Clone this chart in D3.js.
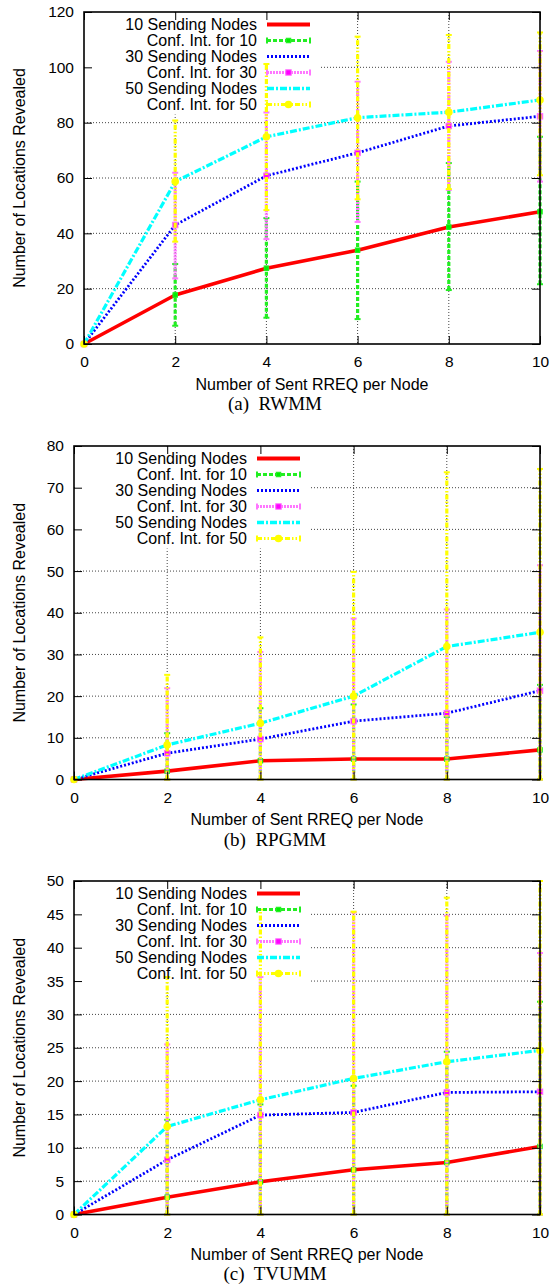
<!DOCTYPE html>
<html>
<head>
<meta charset="utf-8">
<script src="https://cdn.jsdelivr.net/npm/d3@7/dist/d3.min.js"></script>
<style>
  body { margin: 0; background: #fff; }
  svg { display: block; }
  text { font-family: "Liberation Sans", Arial, Helvetica, sans-serif; fill: #000; }
  .caption { font-family: "Liberation Serif", "Times New Roman", serif; white-space: pre; }
</style>
</head>
<body>
<div id="chart"></div>
<script>
// x values and tick labels shared by all three panels
var xValues = [0, 2, 4, 6, 8, 10];
var xTicks = [0, 2, 4, 6, 8, 10];
var legendNames = ["10 Sending Nodes", "Conf. Int. for 10", "30 Sending Nodes",
                   "Conf. Int. for 30", "50 Sending Nodes", "Conf. Int. for 50"];

// (a) RWMM
var rwmmYTicks = [0, 20, 40, 60, 80, 100, 120];
var rwmmMean10 = [0, 17.7, 27.4, 33.9, 42.3, 47.8];
var rwmmLow10  = [0, 6.6, 9.5, 9.0, 19.5, 21.6];
var rwmmHigh10 = [0, 28.9, 45.5, 58.7, 65.4, 74.9];
var rwmmMean30 = [0, 43.0, 60.8, 69.1, 78.8, 82.3];
var rwmmLow30  = [0, 23.7, 37.9, 44.1, 55.7, 58.7];
var rwmmHigh30 = [0, 61.9, 83.7, 94.8, 102.0, 105.9];
var rwmmMean50 = [0, 58.7, 74.9, 81.8, 83.8, 88.2];
var rwmmLow50  = [0, 37.0, 48.4, 52.3, 56.0, 61.0];
var rwmmHigh50 = [0, 80.8, 101.2, 111.1, 111.7, 112.6];

// (b) RPGMM
var rpgmmYTicks = [0, 10, 20, 30, 40, 50, 60, 70, 80];
var rpgmmMean10 = [0, 2.0, 4.5, 4.9, 4.9, 7.1];
var rpgmmLow10  = [0, 0, 0, 0, 0, 0];
var rpgmmHigh10 = [0, 11.1, 17.1, 18.0, 15.0, 22.7];
var rpgmmMean30 = [0, 6.3, 9.7, 14.0, 15.9, 21.3];
var rpgmmLow30  = [0, 0, 0, 0, 0, 0];
var rpgmmHigh30 = [0, 21.9, 30.6, 38.6, 40.8, 51.4];
var rpgmmMean50 = [0, 8.3, 13.5, 20.0, 31.9, 35.3];
var rpgmmLow50  = [0, 0, 0, 0, 0, 0];
var rpgmmHigh50 = [0, 25.1, 34.1, 49.8, 73.7, 74.5];

// (c) TVUMM
var tvummYTicks = [0, 5, 10, 15, 20, 25, 30, 35, 40, 45, 50];
var tvummMean10 = [0, 2.6, 4.9, 6.7, 7.8, 10.2];
var tvummLow10  = [0, 0, 0, 0, 0, 0];
var tvummHigh10 = [0, 14.2, 16.5, 19.3, 24.4, 31.9];
var tvummMean30 = [0, 8.2, 14.9, 15.3, 18.3, 18.4];
var tvummLow30  = [0, 0, 0, 0, 0, 0];
var tvummHigh30 = [0, 25.5, 35.6, 45.3, 44.8, 39.2];
var tvummMean50 = [0, 13.2, 17.2, 20.4, 22.9, 24.6];
var tvummLow50  = [0, 0, 0, 0, 0, 0];
var tvummHigh50 = [0, 35.6, 45.7, 45.4, 47.5, 50];

// line / error bar styles in gnuplot order
var lineStyles = [
  { color: "#ff0000", width: 3.6, dash: null },
  { color: "#22ee22", width: 3.2, dash: "4,2", point: "#00ee00", shape: "square", size: 4.5 },
  { color: "#0000ff", width: 2.8, dash: "2,2" },
  { color: "#ff77ff", width: 3.2, dash: "2,1", point: "#ff00ff", shape: "square", size: 5.5 },
  { color: "#00ffff", width: 3.2, dash: "7,2,2,2" },
  { color: "#ffff00", width: 3.2, dash: "5,2,1.5,2,1.5,2", point: "#ffff00", shape: "circle", size: 3.8 }
];

var width = 551, height = 1288;
var svg = d3.select("#chart").append("svg")
  .attr("width", width).attr("height", height);
svg.append("rect").attr("width", width).attr("height", height).attr("fill", "#fff");

var panels = [
  { left: 84, right: 540, top: 12, bottom: 344, yMax: 120, yTicks: rwmmYTicks,
    caption: "(a)  RWMM", xLabelY: 390, captionY: 410,
    means: [rwmmMean10, rwmmMean30, rwmmMean50],
    lows: [rwmmLow10, rwmmLow30, rwmmLow50],
    highs: [rwmmHigh10, rwmmHigh30, rwmmHigh50] },
  { left: 74, right: 540, top: 446, bottom: 779.5, yMax: 80, yTicks: rpgmmYTicks,
    caption: "(b)  RPGMM", xLabelY: 825, captionY: 846,
    means: [rpgmmMean10, rpgmmMean30, rpgmmMean50],
    lows: [rpgmmLow10, rpgmmLow30, rpgmmLow50],
    highs: [rpgmmHigh10, rpgmmHigh30, rpgmmHigh50] },
  { left: 74, right: 540, top: 881, bottom: 1214.5, yMax: 50, yTicks: tvummYTicks,
    caption: "(c)  TVUMM", xLabelY: 1260, captionY: 1280,
    means: [tvummMean10, tvummMean30, tvummMean50],
    lows: [tvummLow10, tvummLow30, tvummLow50],
    highs: [tvummHigh10, tvummHigh30, tvummHigh50] }
];

function drawPoint(g, cx, cy, st) {
  if (st.shape === "circle") {
    g.append("circle").attr("cx", cx).attr("cy", cy).attr("r", st.size).attr("fill", st.point);
  } else {
    g.append("rect").attr("x", cx - st.size / 2).attr("y", cy - st.size / 2)
      .attr("width", st.size).attr("height", st.size)
      .attr("fill", st.point).attr("stroke", st.color).attr("stroke-width", 1);
  }
}

function drawPanel(p) {
  var x = d3.scaleLinear().domain([0, 10]).range([p.left, p.right]);
  var y = d3.scaleLinear().domain([0, p.yMax]).range([p.bottom, p.top]);
  var g = svg.append("g");

  // grid
  var grid = g.append("g").attr("stroke", "#444").attr("stroke-width", 1).attr("stroke-dasharray", "1,2");
  p.yTicks.slice(1, -1).forEach(function(t) {
    grid.append("line").attr("x1", p.left).attr("x2", p.right).attr("y1", y(t)).attr("y2", y(t));
  });
  xTicks.slice(1, -1).forEach(function(t) {
    grid.append("line").attr("x1", x(t)).attr("x2", x(t)).attr("y1", p.top).attr("y2", p.bottom);
  });

  // opaque key area
  var rowY = function(i) { return p.top + 12.5 + 16 * i; };
  g.append("rect").attr("x", p.left + 1).attr("y", p.top + 1)
    .attr("width", 234).attr("height", rowY(5) + 9 - p.top).attr("fill", "#fff");

  // data, drawn in plot order
  var line = d3.line().x(function(d, i) { return x(xValues[i]); }).y(function(d) { return y(d); });
  for (var k = 0; k < 3; k++) {
    var ls = lineStyles[2 * k], es = lineStyles[2 * k + 1];
    g.append("path").datum(p.means[k]).attr("d", line)
      .attr("fill", "none").attr("stroke", ls.color).attr("stroke-width", ls.width)
      .attr("stroke-dasharray", ls.dash).attr("stroke-linejoin", "round");
    var eb = g.append("g");
    xValues.forEach(function(xv, i) {
      var cx = x(xv), lo = y(p.lows[k][i]), hi = y(p.highs[k][i]);
      if (lo - hi > 0.5) {
        eb.append("line").attr("x1", cx).attr("x2", cx).attr("y1", lo).attr("y2", hi)
          .attr("stroke", es.color).attr("stroke-width", es.width).attr("stroke-dasharray", es.dash);
        [lo, hi].forEach(function(v) {
          eb.append("line").attr("x1", cx - 3).attr("x2", cx + 3).attr("y1", v).attr("y2", v)
            .attr("stroke", es.color).attr("stroke-width", 2);
        });
      }
      drawPoint(eb, cx, y(p.means[k][i]), es);
    });
  }

  // frame
  g.append("rect").attr("x", p.left).attr("y", p.top)
    .attr("width", p.right - p.left).attr("height", p.bottom - p.top)
    .attr("fill", "none").attr("stroke", "#000").attr("stroke-width", 1.6);

  // axes with inward ticks
  var ay = g.append("g").attr("transform", "translate(" + p.left + ",0)")
    .call(d3.axisLeft(y).tickValues(p.yTicks).tickSizeInner(-8).tickSizeOuter(0).tickPadding(10));
  var ay2 = g.append("g").attr("transform", "translate(" + p.right + ",0)")
    .call(d3.axisRight(y).tickValues(p.yTicks).tickSizeInner(-8).tickSizeOuter(0).tickFormat(""));
  var ax = g.append("g").attr("transform", "translate(0," + p.bottom + ")")
    .call(d3.axisBottom(x).tickValues(xTicks).tickSizeInner(-8).tickSizeOuter(0).tickPadding(12));
  var ax2 = g.append("g").attr("transform", "translate(0," + p.top + ")")
    .call(d3.axisTop(x).tickValues(xTicks).tickSizeInner(-8).tickSizeOuter(0).tickFormat(""));
  [ay, ay2, ax, ax2].forEach(function(a) {
    a.select(".domain").remove();
    a.selectAll("line").attr("stroke", "#000").attr("stroke-width", 1);
    a.selectAll("text").attr("font-size", 15.5).attr("font-family", null);
  });

  // axis titles
  g.append("text").attr("x", (p.left + p.right) / 2).attr("y", p.xLabelY)
    .attr("text-anchor", "middle").attr("font-size", 16).text("Number of Sent RREQ per Node");
  g.append("text").attr("transform", "translate(25," + (p.top + p.bottom) / 2 + ") rotate(-90)")
    .attr("text-anchor", "middle").attr("font-size", 16).text("Number of Locations Revealed");
  g.append("text").attr("class", "caption").attr("x", 275).attr("y", p.captionY)
    .attr("text-anchor", "middle").attr("font-size", 19).text(p.caption);

  // key
  var tx = p.left + 173, s0 = p.left + 183, s1 = p.left + 226;
  legendNames.forEach(function(name, i) {
    var st = lineStyles[i], ry = rowY(i);
    g.append("text").attr("x", tx).attr("y", ry).attr("dy", "0.36em")
      .attr("text-anchor", "end").attr("font-size", 16).text(name);
    g.append("line").attr("x1", s0).attr("x2", s1).attr("y1", ry).attr("y2", ry)
      .attr("stroke", st.color).attr("stroke-width", i % 2 === 0 ? st.width + 0.4 : st.width)
      .attr("stroke-dasharray", st.dash);
    if (st.point) {
      [s0, s1].forEach(function(sx) {
        g.append("line").attr("x1", sx).attr("x2", sx).attr("y1", ry - 3).attr("y2", ry + 3)
          .attr("stroke", st.color).attr("stroke-width", 2);
      });
      drawPoint(g, (s0 + s1) / 2, ry, st);
    }
  });
}

panels.forEach(drawPanel);
</script>
</body>
</html>
